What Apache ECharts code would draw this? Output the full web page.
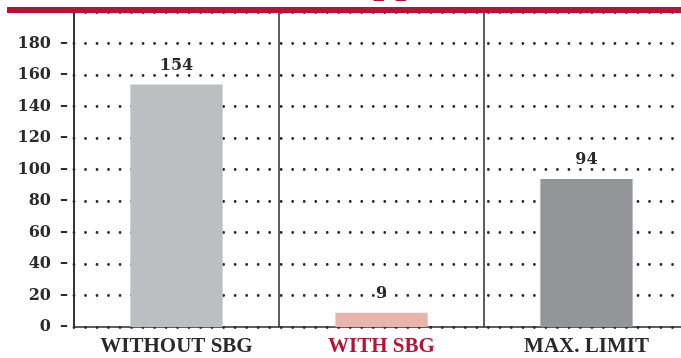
<!DOCTYPE html>
<html>
<head>
<meta charset="utf-8">
<script src="https://cdn.jsdelivr.net/npm/echarts@6/dist/echarts.min.js"></script>
<style>
  html, body { margin: 0; padding: 0; background: #fff; }
  #chart { width: 681px; height: 358px; }
</style>
</head>
<body>
<div id="chart"></div>
<script>
// data
const categories = ['WITHOUT SBG', 'WITH SBG', 'MAX. LIMIT']
const values = [154, 9, 94]
const yTicks = [0, 20, 40, 60, 80, 100, 120, 140, 160, 180]

const barColors = ['#BCBEC2', '#E8B4AB', '#939598']
const red = '#BA1237'
const ink = '#2a2a2a'

const chart = echarts.init(document.getElementById('chart'))

const option = {
  animation: false,
  // third column runs off the right edge of the picture
  grid: { left: 74, width: 615, top: 12, bottom: 31, containLabel: false, outerBoundsMode: 'none' },
  xAxis: {
    type: 'category',
    data: categories,
    axisLine: { lineStyle: { color: ink, width: 1.5 } },
    axisTick: { show: false },
    splitLine: { show: true, interval: 0, lineStyle: { color: ink, width: 1.5 } },
    axisLabel: {
      margin: 9,
      interval: 0,
      formatter: (v, i) => (i === 1 ? '{r|' + v + '}' : '{d|' + v + '}'),
      rich: {
        d: { fontFamily: 'Liberation Serif', fontWeight: 'bold', fontSize: 21, color: ink },
        r: { fontFamily: 'Liberation Serif', fontWeight: 'bold', fontSize: 21, color: red }
      }
    }
  },
  yAxis: {
    type: 'value',
    min: 0,
    max: 200,
    interval: 20,
    axisLine: { show: true, lineStyle: { color: ink, width: 1.5 } },
    axisTick: { show: false },
    axisLabel: {
      margin: 6,
      color: ink,
      formatter: v => (yTicks.includes(v) ? '{n|' + v + '}{d|\u2013}' : ''),
      rich: {
        n: { fontFamily: 'DejaVu Serif', fontWeight: 'bold', fontSize: 16, color: ink, padding: [0, 9, 0, 0] },
        d: { fontFamily: 'DejaVu Serif', fontWeight: 'bold', fontSize: 16, color: ink }
      }
    },
    splitLine: {
      show: true,
      lineStyle: { color: ink, width: 2.8, type: [0.01, 11.5], cap: 'round' }
    }
  },
  series: [{
    type: 'bar',
    barWidth: '45%',
    data: values.map((v, i) => ({ value: v, itemStyle: { color: barColors[i] } })),
    label: {
      show: true,
      position: 'top',
      distance: 11,
      fontFamily: 'DejaVu Serif',
      fontWeight: 'bold',
      fontSize: 16,
      color: ink
    }
  }],
  graphic: [
    { type: 'rect', left: 7, top: 7, z: 100, shape: { width: 680, height: 6 }, style: { fill: red } },
    {
      type: 'text', x: 373, y: 2, z: 100,
      style: { text: 'pp', fill: red, font: 'bold 40px "Liberation Serif"', verticalAlign: 'bottom' }
    }
  ]
}

chart.setOption(option)
</script>
</body>
</html>
